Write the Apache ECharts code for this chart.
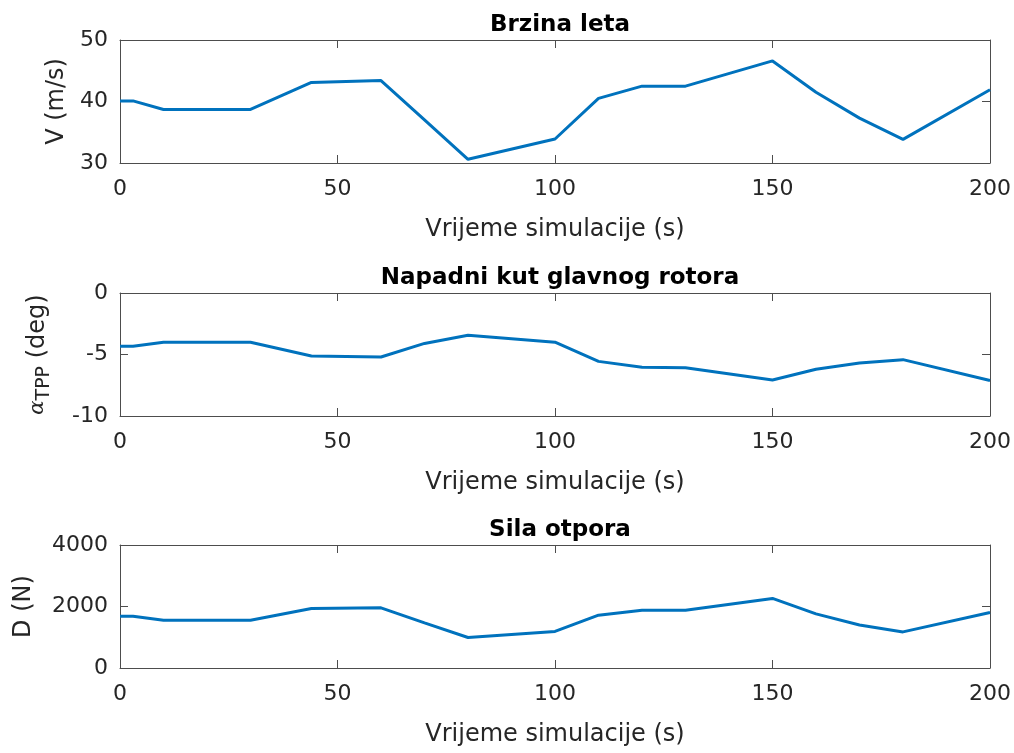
<!DOCTYPE html>
<html>
<head>
<meta charset="utf-8">
<script src="https://cdn.jsdelivr.net/npm/echarts@6/dist/echarts.min.js"></script>
<style>
  html, body { margin: 0; padding: 0; background: #fff; }
  #chart { width: 1014px; height: 753px; }
</style>
</head>
<body>
<div id="chart"></div>
<script>
// vrijeme simulacije (s)
var time = [0, 3, 10, 30, 44, 60, 70, 80, 100, 110, 120, 130, 150, 160, 170, 180, 200];
// brzina leta V (m/s)
var speed = [40.1, 40.1, 38.7, 38.7, 43.1, 43.4, 37.0, 30.6, 33.9, 40.5, 42.5, 42.5, 46.6, 41.5, 37.3, 33.85, 41.9];
// napadni kut glavnog rotora (deg)
var alpha = [-4.33, -4.33, -4.0, -4.0, -5.12, -5.2, -4.1, -3.43, -4.0, -5.56, -6.03, -6.08, -7.07, -6.2, -5.7, -5.42, -7.12];
// sila otpora D (N)
var drag = [1685, 1685, 1555, 1555, 1937, 1956, 1470, 991, 1190, 1718, 1881, 1881, 2262, 1760, 1400, 1174, 1805];

var titles = ['Brzina leta', 'Napadni kut glavnog rotora', 'Sila otpora'];
var yNames = ['V (m/s)', '{a|α}{sub|TPP} (deg)', 'D (N)'];
var yRanges = [[30, 50, 10], [-10, 0, 5], [0, 4000, 2000]];
var tops = [40, 293, 545];
var nameGaps = [50, 66, 84];

var chart = echarts.init(document.getElementById('chart'));
var font = 'DejaVu Sans, Liberation Sans, sans-serif';
var axisCol = '#4d4d4d';
var textCol = '#262626';

var grids = [], xAxes = [], yAxes = [], series = [], titleList = [];
var values = [speed, alpha, drag];

for (var i = 0; i < 3; i++) {
    grids.push({ left: 120, right: 24, top: tops[i], height: 123, show: false });
    titleList.push({
        text: titles[i],
        left: 555, top: tops[i] - 31, textAlign: 'center',
        textStyle: { fontFamily: font, fontSize: 23, fontWeight: 'bold', color: '#000' }
    });
    // donja x os
    xAxes.push({
        type: 'value', gridIndex: i, min: 0, max: 200, interval: 50,
        name: 'Vrijeme simulacije (s)', nameLocation: 'middle', nameGap: 55,
        nameTextStyle: { fontFamily: font, fontSize: 24, color: textCol },
        axisLine: { show: true, onZero: false, lineStyle: { color: axisCol, width: 1 } },
        axisTick: { show: true, inside: true, length: 8, lineStyle: { color: axisCol } },
        axisLabel: { fontFamily: font, fontSize: 22, color: textCol, margin: 15 },
        splitLine: { show: false }
    });
    // gornja x os (okvir)
    xAxes.push({
        type: 'value', gridIndex: i, position: 'top', min: 0, max: 200, interval: 50,
        axisLine: { show: true, onZero: false, lineStyle: { color: axisCol, width: 1 } },
        axisTick: { show: true, inside: true, length: 8, lineStyle: { color: axisCol } },
        axisLabel: { show: false }, splitLine: { show: false }
    });
    var r = yRanges[i];
    yAxes.push({
        type: 'value', gridIndex: i, min: r[0], max: r[1], interval: r[2],
        name: yNames[i], nameLocation: 'middle', nameGap: nameGaps[i], nameRotate: 90,
        nameTextStyle: {
            fontFamily: font, fontSize: 24, color: textCol,
            rich: {
                a: { fontFamily: 'DejaVu Serif, serif', fontStyle: 'italic', fontSize: 21, color: textCol },
                sub: { fontFamily: font, fontSize: 19, color: textCol, padding: [14, 0, 0, 0] }
            }
        },
        axisLine: { show: true, onZero: false, lineStyle: { color: axisCol, width: 1 } },
        axisTick: { show: true, inside: true, length: 8, lineStyle: { color: axisCol } },
        axisLabel: {
            fontFamily: font, fontSize: 22, color: textCol, margin: 12,
            formatter: function (v) { return String(v); }
        },
        splitLine: { show: false }
    });
    yAxes.push({
        type: 'value', gridIndex: i, position: 'right', min: r[0], max: r[1], interval: r[2],
        axisLine: { show: true, onZero: false, lineStyle: { color: axisCol, width: 1 } },
        axisTick: { show: true, inside: true, length: 8, lineStyle: { color: axisCol } },
        axisLabel: { show: false }, splitLine: { show: false }
    });
    series.push({
        type: 'line', xAxisIndex: i * 2, yAxisIndex: i * 2,
        data: time.map(function (t, k) { return [t, values[i][k]]; }),
        showSymbol: false, animation: false,
        lineStyle: { color: '#0072BD', width: 3 }
    });
}

chart.setOption({
    backgroundColor: '#fff',
    animation: false,
    title: titleList,
    grid: grids,
    xAxis: xAxes,
    yAxis: yAxes,
    series: series
});
</script>
</body>
</html>
